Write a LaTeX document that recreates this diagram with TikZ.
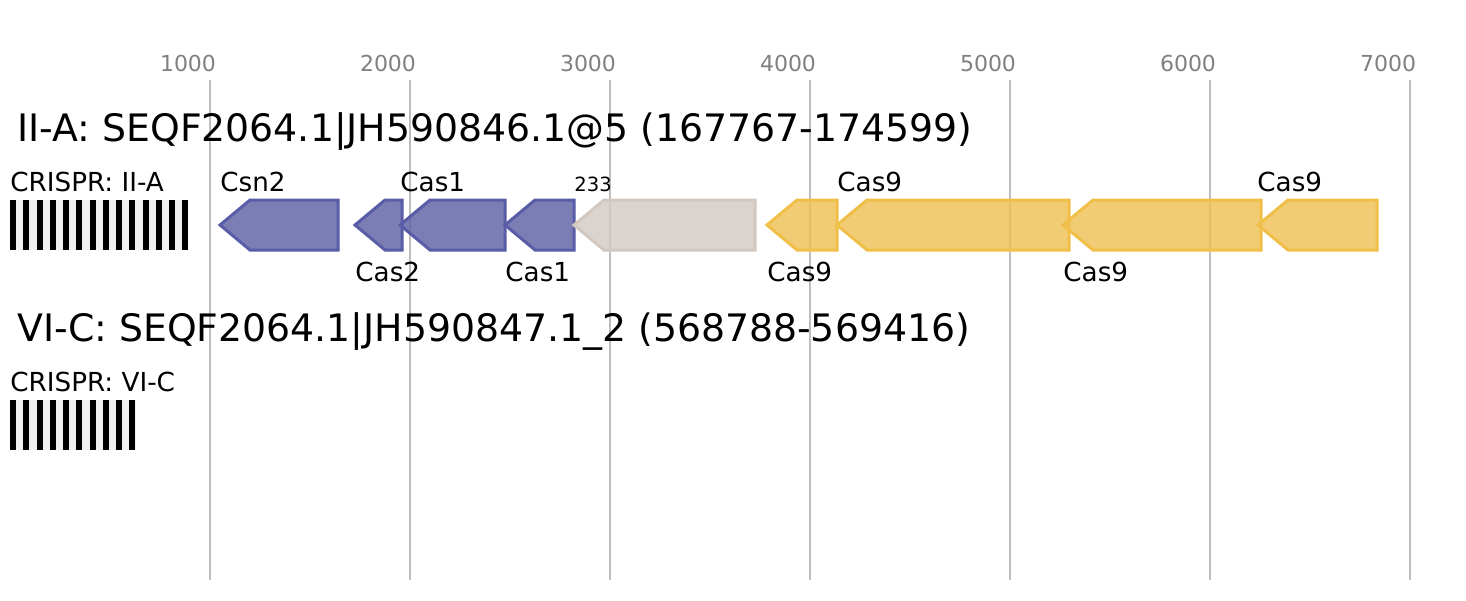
\documentclass[tikz,border=0pt]{standalone}
\usepackage{xcolor}
\usepackage{fontspec}
\setmainfont{DejaVu Sans}
\usepackage{tikz}
\definecolor{casblue}{RGB}{90,94,163}
\definecolor{casblueE}{RGB}{89,92,167}
\definecolor{casgray}{RGB}{211,201,194}
\definecolor{casgrayE}{RGB}{210,200,192}
\definecolor{casgold}{RGB}{239,192,82}
\definecolor{casgoldE}{RGB}{240,191,72}
\definecolor{gridgray}{RGB}{190,190,190}
\definecolor{tickgray}{RGB}{128,128,128}
\definecolor{spacergray}{RGB}{240,240,240}
\tikzstyle{gridline} = [draw=gridgray, line width=1pt]
\tikzstyle{tick} = [text=tickgray, font=\fontsize{11}{13}\selectfont]
\tikzstyle{title} = [anchor=base west, inner sep=0pt, font=\fontsize{18.9}{23}\selectfont]
\tikzstyle{lbl} = [anchor=base west, inner sep=0pt, font=\fontsize{13.1}{16}\selectfont]
\tikzstyle{small} = [anchor=base west, inner sep=0pt, font=\fontsize{9.8}{11}\selectfont]
\tikzstyle{gene} = [line width=1.5pt, fill opacity=0.8]

\begin{document}
\begin{tikzpicture}[x=0.5pt, y=-0.5pt]
\useasboundingbox [fill=white] (0,0) rectangle (1466,600);
% position scale
\foreach \k in {1,...,7} {
  \draw [gridline] (10+200*\k,80) -- (10+200*\k,580);
  \node [tick] (tick\k) at (-12+200*\k,63) {\k000};
}
% locus II-A
\node [title] (titleA) at (17,141) {II-A: SEQF2064.1|JH590846.1@5 (167767-174599)};
\node [lbl] (arrayA) at (10,191) {CRISPR: II-A};
\fill [spacergray] (10,200) rectangle (188,250);
\foreach \i in {0,...,13}
  \fill [black] (10+13.25*\i,200) rectangle ++(6,50);
\foreach \t/\r/\f/\e in {220/338/casblue/casblueE, 355/402/casblue/casblueE,
    400/505/casblue/casblueE, 505/574/casblue/casblueE, 574/755/casgray/casgrayE,
    767/837/casgold/casgoldE, 837/1069/casgold/casgoldE,
    1063/1261/casgold/casgoldE, 1258/1377/casgold/casgoldE}
  \draw [gene, draw=\e, fill=\f] (\t,225) -- (\t+30,200) -- (\r,200)
    -- (\r,250) -- (\t+30,250) -- cycle;
\node [lbl] (csn2) at (220,191) {Csn2};
\node [lbl] (cas2) at (355,281) {Cas2};
\node [lbl] (cas1a) at (400,191) {Cas1};
\node [lbl] (cas1b) at (505,281) {Cas1};
\node [small] (orf233) at (574,191) {233};
\node [lbl] (cas9a) at (767,281) {Cas9};
\node [lbl] (cas9b) at (837,191) {Cas9};
\node [lbl] (cas9c) at (1063,281) {Cas9};
\node [lbl] (cas9d) at (1257,191) {Cas9};
% locus VI-C
\node [title] (titleC) at (17,341) {VI-C: SEQF2064.1|JH590847.1\_2 (568788-569416)};
\node [lbl] (arrayC) at (10,391) {CRISPR: VI-C};
\fill [spacergray] (10,400) rectangle (136,450);
\foreach \i in {0,...,9}
  \fill [black] (10+13.25*\i,400) rectangle ++(6,50);
\end{tikzpicture}
\end{document}
